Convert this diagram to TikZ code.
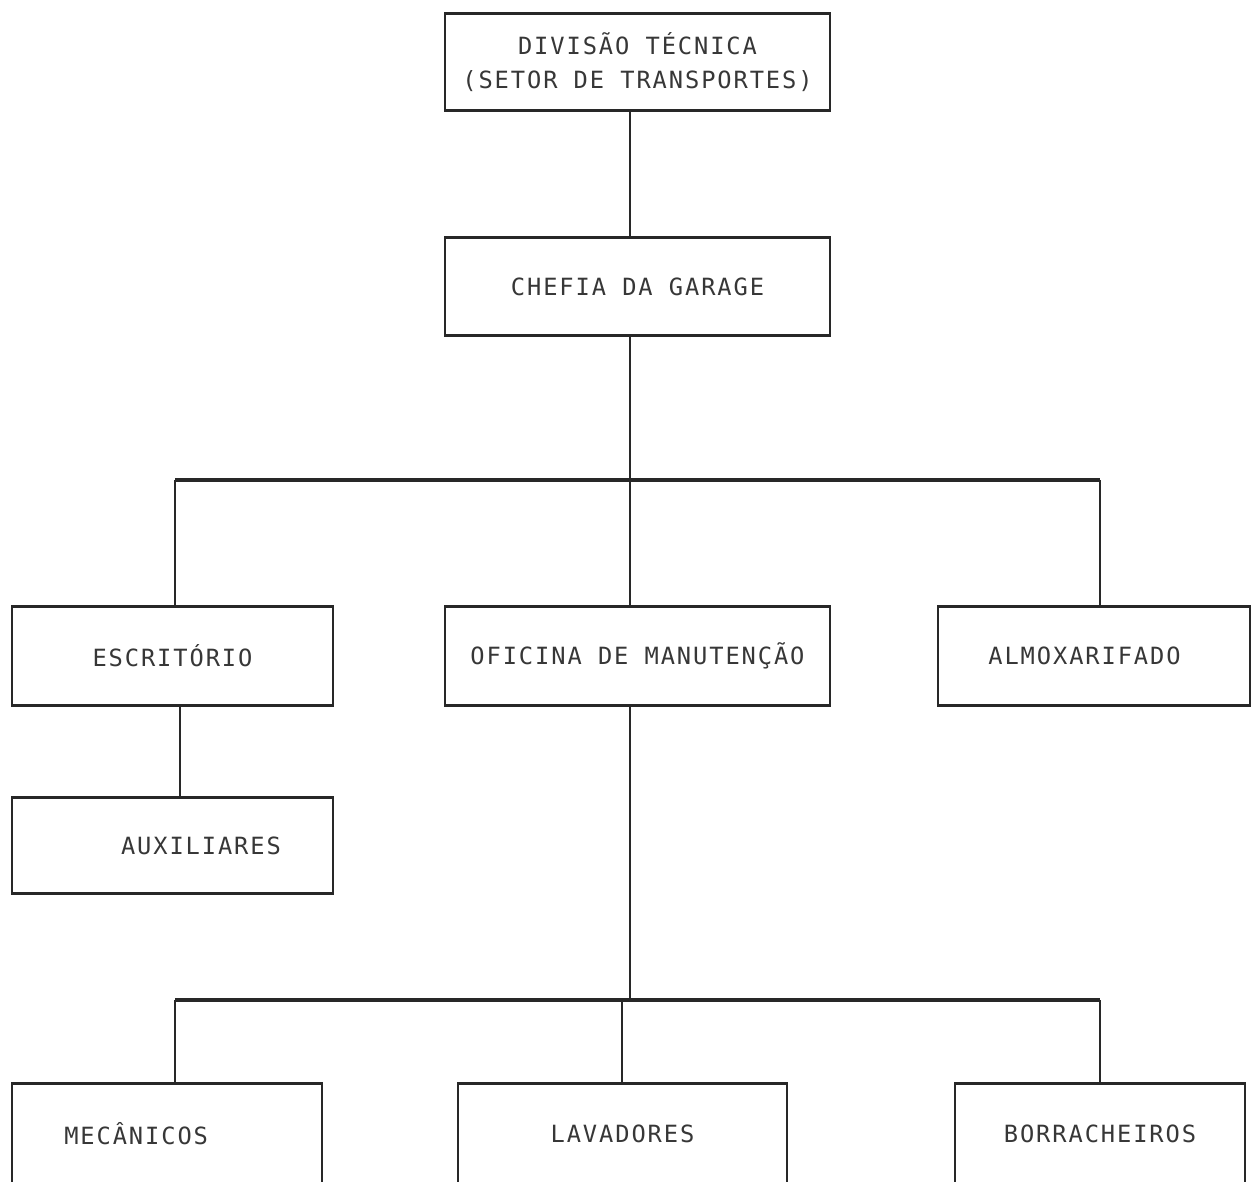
\documentclass[tikz,border=0pt]{standalone}
\usepackage{fontspec}
\usepackage{xcolor}
\usetikzlibrary{positioning, calc}
\newfontfamily\plotfont[LetterSpace=8]{DejaVu Sans Mono}
\definecolor{inkgray}{RGB}{40,40,40}
\definecolor{textgray}{RGB}{55,55,55}
\tikzset{
  orgbox/.style={
    rectangle, draw=inkgray, line width=0.8pt, inner sep=0pt,
    align=center, text=textgray,
    font=\plotfont\fontsize{13.5}{19}\selectfont
  },
  thinline/.style={draw=inkgray, line width=0.8pt},
  thickline/.style={draw=inkgray, line width=1.9pt}
}

\begin{document}
\begin{tikzpicture}[x=0.02cm, y=-0.02cm]
  \clip (0,0) rectangle (1253,1181);
  \fill[white] (0,0) rectangle (1253,1181);

  \node[orgbox, minimum width=385*0.02cm, minimum height=96*0.02cm] (div) at (637.5,62)
    {DIVISÃO TÉCNICA\\(SETOR DE TRANSPORTES)};
  \node[orgbox, minimum width=385*0.02cm, minimum height=97*0.02cm] (chefia) at (637.5,286.5)
    {CHEFIA DA GARAGE};
  \node[orgbox, minimum width=321*0.02cm, minimum height=98*0.02cm] (esc) at (172.5,656)
    {ESCRITÓRIO};
  \node[orgbox, minimum width=385*0.02cm, minimum height=98*0.02cm] (ofi) at (637.5,656)
    {OFICINA DE MANUTENÇÃO};
  \node[orgbox, minimum width=312*0.02cm, minimum height=98*0.02cm] (alm) at (1094,656)
    {ALMOXARIFADO\hspace*{0.8em}};
  \node[orgbox, minimum width=321*0.02cm, minimum height=95*0.02cm] (aux) at (172.5,845.5)
    {\hspace*{2.4em}AUXILIARES};
  \node[orgbox, minimum width=310*0.02cm, minimum height=100*0.02cm] (mec) at (167,1134)
    {MECÂNICOS\hspace*{2.6em}};
  \node[orgbox, minimum width=329*0.02cm, minimum height=100*0.02cm] (lav) at (622.5,1134)
    {LAVADORES};
  \node[orgbox, minimum width=290*0.02cm, minimum height=100*0.02cm] (bor) at (1100,1134)
    {BORRACHEIROS};

  \foreach \n in {div,chefia,esc,ofi,alm,aux,mec,lav,bor}
    \draw[thickline] (\n.north west) -- (\n.north east)
                     (\n.south west) -- (\n.south east);

  \coordinate (j1) at (630,480);
  \coordinate (l1) at (175,480);
  \coordinate (r1) at (1100,480);
  \coordinate (j2) at (630,1000);
  \coordinate (l2) at (175,1000);
  \coordinate (m2) at (622,1000);
  \coordinate (r2) at (1100,1000);

  \draw[thinline] (div.south -| j1) -- (chefia.north -| j1);
  \draw[thinline] (chefia.south -| j1) -- (j1);
  \draw[thickline] (l1) -- (r1);
  \draw[thinline] (l1) -- (esc.north -| l1);
  \draw[thinline] (j1) -- (ofi.north -| j1);
  \draw[thinline] (r1) -- (alm.north -| r1);
  \draw[thinline] ([xshift=0.15cm]esc.south) -- ([xshift=0.15cm]aux.north);
  \draw[thinline] (ofi.south -| j2) -- (j2);
  \draw[thickline] (l2) -- (r2);
  \draw[thinline] (l2) -- (mec.north -| l2);
  \draw[thinline] (m2) -- (lav.north -| m2);
  \draw[thinline] (r2) -- (bor.north -| r2);
\end{tikzpicture}
\end{document}
